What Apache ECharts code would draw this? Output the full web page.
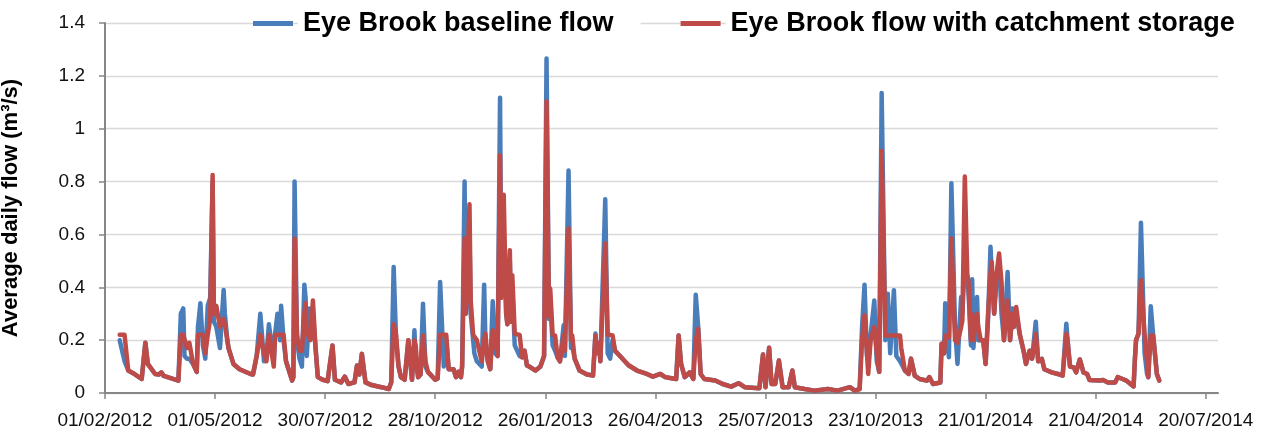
<!DOCTYPE html>
<html>
<head>
<meta charset="utf-8">
<title>Eye Brook flow</title>
<script src="https://cdn.jsdelivr.net/npm/echarts/dist/echarts.min.js"></script>
<style>
  html, body { margin: 0; padding: 0; background: #fff; }
  #chart { width: 1267px; height: 430px; }
</style>
</head>
<body>
<div id="chart"></div>
<script>
// average daily flow (m3/s)
const flowDates = [
  '2012-02-13','2012-02-17','2012-02-20','2012-02-24','2012-03-02','2012-03-03','2012-03-05','2012-03-07','2012-03-13','2012-03-16','2012-03-18','2012-03-20',
  '2012-04-01','2012-04-03','2012-04-05','2012-04-06','2012-04-08','2012-04-10','2012-04-13','2012-04-16','2012-04-17','2012-04-19','2012-04-21','2012-04-23','2012-04-25','2012-04-27','2012-04-29','2012-04-30',
  '2012-05-02','2012-05-05','2012-05-08','2012-05-09','2012-05-11','2012-05-12','2012-05-16','2012-05-21','2012-05-30',
  '2012-06-01','2012-06-04','2012-06-07','2012-06-10','2012-06-12','2012-06-14','2012-06-18','2012-06-19','2012-06-21','2012-06-23','2012-06-24','2012-06-26','2012-06-28',
  '2012-07-03','2012-07-04','2012-07-05','2012-07-07','2012-07-09','2012-07-11','2012-07-13','2012-07-14','2012-07-15','2012-07-17','2012-07-18','2012-07-20','2012-07-22','2012-07-24','2012-07-28',
  '2012-08-01','2012-08-05','2012-08-07','2012-08-12','2012-08-15','2012-08-18','2012-08-23','2012-08-25','2012-08-27','2012-08-29','2012-09-01','2012-09-06','2012-09-14','2012-09-20','2012-09-22','2012-09-24','2012-09-26','2012-09-28','2012-09-30',
  '2012-10-03','2012-10-06','2012-10-09','2012-10-11','2012-10-12','2012-10-14','2012-10-16','2012-10-18','2012-10-20','2012-10-22','2012-10-28','2012-10-30',
  '2012-11-01','2012-11-04','2012-11-06','2012-11-08','2012-11-12','2012-11-14','2012-11-16','2012-11-18','2012-11-19','2012-11-21','2012-11-22','2012-11-25','2012-11-26','2012-11-28','2012-11-29',
  '2012-12-01','2012-12-05','2012-12-07','2012-12-08','2012-12-10','2012-12-12','2012-12-14','2012-12-16','2012-12-18','2012-12-20','2012-12-21','2012-12-23','2012-12-25','2012-12-26','2012-12-28','2012-12-29','2012-12-30',
  '2013-01-01','2013-01-05','2013-01-07','2013-01-09','2013-01-11','2013-01-13','2013-01-18','2013-01-22','2013-01-25','2013-01-27','2013-01-29','2013-01-30',
  '2013-02-01','2013-02-03','2013-02-05','2013-02-07','2013-02-10','2013-02-11','2013-02-14','2013-02-16','2013-02-17','2013-02-19','2013-02-23',
  '2013-03-01','2013-03-06','2013-03-08','2013-03-09','2013-03-11','2013-03-12','2013-03-16','2013-03-18','2013-03-20','2013-03-22','2013-03-24','2013-03-29',
  '2013-04-01','2013-04-04','2013-04-11','2013-04-19','2013-04-24','2013-04-30','2013-05-04','2013-05-08','2013-05-13','2013-05-15','2013-05-17','2013-05-20','2013-05-24','2013-05-27','2013-05-29','2013-05-31','2013-06-02','2013-06-05','2013-06-14','2013-06-20','2013-06-27',
  '2013-07-03','2013-07-08','2013-07-20','2013-07-23','2013-07-25','2013-07-28','2013-07-30','2013-08-02','2013-08-05','2013-08-08','2013-08-13','2013-08-16','2013-08-18','2013-08-26','2013-09-03','2013-09-14','2013-09-22','2013-10-02','2013-10-06','2013-10-10',
  '2013-10-12','2013-10-14','2013-10-16','2013-10-17','2013-10-19','2013-10-22','2013-10-24','2013-10-26','2013-10-28','2013-10-31','2013-11-02','2013-11-04','2013-11-07','2013-11-09','2013-11-12','2013-11-13','2013-11-16','2013-11-19','2013-11-21','2013-11-24','2013-11-28',
  '2013-12-04','2013-12-06','2013-12-09','2013-12-15','2013-12-16','2013-12-18','2013-12-19','2013-12-22','2013-12-24','2013-12-27','2013-12-29',
  '2014-01-01','2014-01-02','2014-01-04','2014-01-06','2014-01-07','2014-01-09','2014-01-10','2014-01-11','2014-01-14','2014-01-15','2014-01-17','2014-01-19','2014-01-21','2014-01-23','2014-01-25','2014-01-26','2014-01-28','2014-01-30',
  '2014-02-01','2014-02-03','2014-02-05','2014-02-08','2014-02-10','2014-02-12','2014-02-13','2014-02-15','2014-02-18','2014-02-21','2014-02-23','2014-02-26','2014-02-28',
  '2014-03-03','2014-03-05','2014-03-08','2014-03-10','2014-03-16','2014-03-21','2014-03-25','2014-03-28','2014-03-29','2014-03-31','2014-04-03','2014-04-05','2014-04-08','2014-04-11','2014-04-14','2014-04-16','2014-04-24','2014-04-27',
  '2014-05-01','2014-05-07','2014-05-09','2014-05-13','2014-05-16','2014-05-22','2014-05-23','2014-05-24','2014-05-26','2014-05-28','2014-05-31','2014-06-02','2014-06-03','2014-06-05','2014-06-07','2014-06-10','2014-06-12'
];

const baselineFlow = [
  0.20,0.12,0.085,0.075,0.053,0.06,0.19,0.11,0.072,0.07,0.078,0.065,
  0.047,0.30,0.32,0.14,0.13,0.13,0.11,0.08,0.25,0.34,0.18,0.13,0.33,0.36,0.80,0.27,
  0.25,0.17,0.39,0.30,0.20,0.17,0.11,0.09,0.072,
  0.07,0.14,0.30,0.12,0.14,0.26,0.12,0.22,0.30,0.20,0.33,0.20,0.12,
  0.047,0.06,0.80,0.20,0.13,0.10,0.41,0.36,0.14,0.32,0.22,0.30,0.18,0.06,0.05,
  0.045,0.18,0.05,0.04,0.062,0.034,0.04,0.104,0.07,0.148,0.04,0.03,0.022,0.015,0.04,0.477,0.20,0.10,0.06,
  0.05,0.20,0.05,0.237,0.12,0.06,0.07,0.338,0.10,0.08,0.05,0.055,
  0.42,0.10,0.20,0.09,0.09,0.06,0.08,0.06,0.10,0.80,0.30,0.60,0.30,0.20,0.15,
  0.12,0.10,0.41,0.20,0.12,0.09,0.347,0.15,0.14,1.117,0.38,0.60,0.30,0.26,0.50,0.27,0.40,
  0.18,0.14,0.135,0.16,0.104,0.10,0.085,0.10,0.14,1.266,0.28,0.35,
  0.18,0.16,0.135,0.12,0.256,0.14,0.842,0.17,0.18,0.13,0.085,
  0.07,0.066,0.225,0.15,0.19,0.12,0.733,0.15,0.13,0.20,0.16,0.135,
  0.12,0.105,0.085,0.072,0.062,0.072,0.06,0.057,0.053,0.218,0.11,0.06,0.078,0.053,0.372,0.25,0.072,0.053,0.047,0.034,0.024,
  0.037,0.022,0.018,0.146,0.022,0.171,0.034,0.034,0.123,0.022,0.022,0.085,0.022,0.015,0.009,0.015,0.009,0.022,0.009,0.015,
  0.25,0.41,0.14,0.12,0.22,0.35,0.12,0.08,1.135,0.20,0.376,0.15,0.389,0.14,0.12,0.12,0.085,0.072,0.13,0.066,0.053,
  0.047,0.06,0.034,0.04,0.186,0.15,0.34,0.135,0.794,0.25,0.11,
  0.363,0.30,0.50,0.44,0.38,0.18,0.43,0.17,0.363,0.20,0.20,0.20,0.11,0.28,0.553,0.45,0.30,0.45,
  0.50,0.30,0.20,0.458,0.20,0.32,0.25,0.30,0.22,0.16,0.11,0.16,0.13,
  0.27,0.12,0.129,0.09,0.078,0.072,0.066,0.262,0.20,0.10,0.097,0.078,0.127,0.078,0.072,0.049,0.047,0.049,
  0.04,0.04,0.06,0.053,0.047,0.025,0.123,0.20,0.224,0.644,0.15,0.072,0.06,0.328,0.22,0.072,0.047
];

const storageFlow = [
  0.22,0.22,0.085,0.075,0.053,0.06,0.19,0.11,0.072,0.07,0.078,0.065,
  0.047,0.22,0.22,0.22,0.17,0.19,0.11,0.08,0.22,0.22,0.22,0.15,0.22,0.28,0.825,0.30,
  0.33,0.25,0.28,0.26,0.20,0.17,0.11,0.09,0.072,
  0.07,0.14,0.22,0.15,0.12,0.22,0.10,0.22,0.22,0.22,0.22,0.22,0.12,
  0.047,0.06,0.585,0.22,0.16,0.16,0.30,0.34,0.22,0.22,0.20,0.35,0.18,0.06,0.05,
  0.045,0.18,0.05,0.04,0.062,0.034,0.04,0.104,0.07,0.148,0.04,0.03,0.022,0.015,0.04,0.26,0.22,0.10,0.06,
  0.05,0.20,0.05,0.20,0.18,0.06,0.07,0.218,0.12,0.08,0.05,0.055,
  0.22,0.22,0.22,0.09,0.09,0.06,0.08,0.06,0.10,0.585,0.30,0.714,0.35,0.22,0.22,
  0.20,0.12,0.20,0.224,0.12,0.09,0.237,0.20,0.14,0.90,0.36,0.75,0.30,0.26,0.54,0.27,0.446,
  0.224,0.22,0.135,0.16,0.104,0.10,0.085,0.10,0.14,1.104,0.29,0.395,
  0.22,0.218,0.135,0.12,0.218,0.16,0.623,0.20,0.218,0.13,0.085,
  0.07,0.066,0.218,0.15,0.19,0.12,0.566,0.22,0.22,0.218,0.16,0.135,
  0.12,0.105,0.085,0.072,0.062,0.072,0.06,0.057,0.053,0.218,0.11,0.06,0.078,0.053,0.20,0.243,0.072,0.053,0.047,0.034,0.024,
  0.037,0.022,0.018,0.146,0.022,0.171,0.034,0.034,0.123,0.022,0.022,0.085,0.022,0.015,0.009,0.015,0.009,0.022,0.009,0.015,
  0.20,0.294,0.15,0.072,0.20,0.25,0.15,0.08,0.916,0.218,0.218,0.218,0.218,0.218,0.218,0.17,0.085,0.072,0.13,0.066,0.053,
  0.047,0.06,0.034,0.04,0.186,0.15,0.218,0.21,0.585,0.20,0.19,
  0.25,0.275,0.819,0.45,0.42,0.20,0.30,0.20,0.30,0.25,0.20,0.20,0.11,0.30,0.45,0.496,0.30,0.45,
  0.528,0.42,0.20,0.35,0.20,0.30,0.25,0.325,0.22,0.16,0.11,0.16,0.13,
  0.224,0.12,0.129,0.09,0.078,0.072,0.066,0.224,0.20,0.10,0.097,0.078,0.127,0.078,0.072,0.049,0.047,0.049,
  0.04,0.04,0.06,0.053,0.047,0.025,0.123,0.20,0.224,0.427,0.22,0.12,0.06,0.218,0.218,0.072,0.047
];

// x axis runs in days from 01/02/2012, a label every 90 days
const axisStart = '2012-02-01';
const axisEndDays = 910;
const tickDays = 90;

const DAY_MS = 86400000;
const originMs = Date.parse(axisStart + 'T00:00:00Z');

const toDays = (s) => Math.round((Date.parse(s + 'T00:00:00Z') - originMs) / DAY_MS);
const pad = (n) => (n < 10 ? '0' : '') + n;
const dayLabel = (v) => {
  if (v % tickDays !== 0) return '';
  const d = new Date(originMs + v * DAY_MS);
  return pad(d.getUTCDate()) + '/' + pad(d.getUTCMonth() + 1) + '/' + d.getUTCFullYear();
};

const baselineData = flowDates.map((d, i) => [toDays(d), baselineFlow[i]]);
const storageData = flowDates.map((d, i) => [toDays(d), storageFlow[i]]);

const font = "'Liberation Sans', Arial, sans-serif";
const axisGrey = '#868686';
const legendText = {
  fontFamily: font,
  fontWeight: 'bold',
  fontSize: 27,
  color: '#000',
  backgroundColor: '#fff'
};

const myChart = echarts.init(document.getElementById('chart'));
myChart.setOption({
  animation: false,
  backgroundColor: '#fff',
  grid: { left: 105, right: 49, top: 23, bottom: 37, outerBoundsMode: 'none', containLabel: false },
  legend: {
    left: 253,
    top: 8,
    width: 1014,
    padding: 0,
    orient: 'horizontal',
    icon: 'rect',
    itemWidth: 40,
    itemHeight: 5,
    itemGap: 40,
    textStyle: Object.assign({ padding: [2, 27, 2, 5] }, legendText),
    data: [
      { name: 'Eye Brook baseline flow' },
      { name: 'Eye Brook flow with catchment storage', textStyle: Object.assign({ padding: [2, 0, 2, 5] }, legendText) }
    ]
  },
  xAxis: {
    type: 'value',
    min: 0,
    max: axisEndDays,
    interval: tickDays,
    splitLine: { show: false },
    axisLine: { show: true, lineStyle: { color: axisGrey, width: 2 } },
    axisTick: { show: true, length: 6, lineStyle: { color: axisGrey, width: 1.5 } },
    axisLabel: {
      margin: 18,
      fontFamily: font,
      fontSize: 19,
      color: '#111',
      showMaxLabel: false,
      formatter: dayLabel
    }
  },
  yAxis: {
    type: 'value',
    min: 0,
    max: 1.4,
    interval: 0.2,
    name: 'Average daily flow (m³/s)',
    nameLocation: 'middle',
    nameRotate: 90,
    nameGap: 83,
    nameTextStyle: { fontFamily: font, fontWeight: 'bold', fontSize: 22, color: '#000' },
    axisLine: { show: true, lineStyle: { color: axisGrey, width: 2 } },
    axisTick: { show: true, length: 6, lineStyle: { color: axisGrey, width: 1.5 } },
    axisLabel: { margin: 20, fontFamily: font, fontSize: 19, color: '#111' },
    splitLine: { lineStyle: { color: '#d9d9d9', width: 1.3 } }
  },
  series: [
    {
      name: 'Eye Brook baseline flow',
      type: 'line',
      data: baselineData,
      symbol: 'none',
      itemStyle: { color: '#4A7EBB' },
      lineStyle: { color: '#4A7EBB', width: 4.5, join: 'round', cap: 'round' }
    },
    {
      name: 'Eye Brook flow with catchment storage',
      type: 'line',
      data: storageData,
      symbol: 'none',
      itemStyle: { color: '#BE4B48' },
      lineStyle: { color: '#BE4B48', width: 4.5, join: 'round', cap: 'round' }
    }
  ]
});
</script>
</body>
</html>
